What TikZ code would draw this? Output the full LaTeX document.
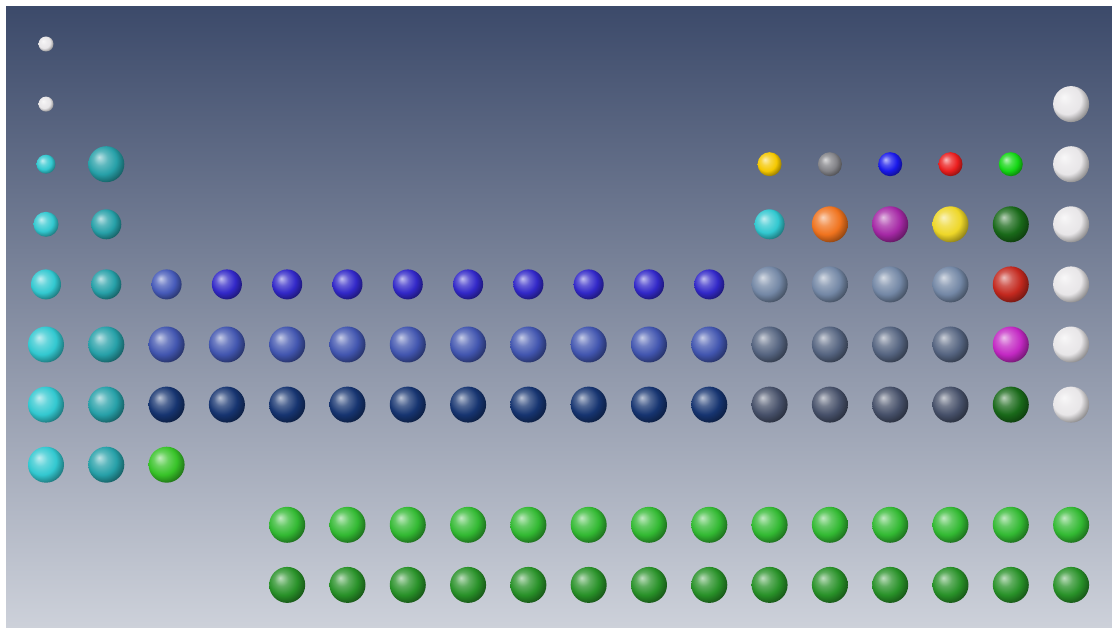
\documentclass[tikz,border=0pt]{standalone}
\makeatletter
\pgfdeclareradialshading[tikz@ball]{sphere}{\pgfpoint{-10bp}{10bp}}{%
 color(0bp)=(tikz@ball!30!white);
 color(10bp)=(tikz@ball!75!white);
 color(20bp)=(tikz@ball);
 color(27bp)=(tikz@ball!72!black);
 color(33bp)=(tikz@ball!48!black);
 color(50bp)=(tikz@ball!30!black)}
\makeatother
\definecolor{bgtop}{RGB}{60,74,106}
\definecolor{bgbot}{RGB}{205,209,218}
\definecolor{cwhite}{RGB}{232,230,232}
\definecolor{ccyan}{RGB}{50,200,208}
\definecolor{cteal}{RGB}{38,160,168}
\definecolor{cindigo}{RGB}{50,40,200}
\definecolor{cmidblue}{RGB}{65,85,175}
\definecolor{cscblue}{RGB}{70,90,185}
\definecolor{cnavy}{RGB}{22,52,112}
\definecolor{csteelA}{RGB}{115,135,165}
\definecolor{csteelB}{RGB}{85,100,128}
\definecolor{csteelC}{RGB}{70,80,105}
\definecolor{cyellowB}{RGB}{245,200,0}
\definecolor{cgrayC}{RGB}{130,130,135}
\definecolor{cblueN}{RGB}{25,25,235}
\definecolor{credO}{RGB}{235,30,30}
\definecolor{cgreenF}{RGB}{20,215,20}
\definecolor{corange}{RGB}{240,115,30}
\definecolor{cpurple}{RGB}{165,40,165}
\definecolor{cyellowS}{RGB}{238,215,40}
\definecolor{cdkgreen}{RGB}{25,105,25}
\definecolor{cbrred}{RGB}{195,40,30}
\definecolor{cmagenta}{RGB}{195,40,195}
\definecolor{cgreenAc}{RGB}{55,195,40}
\definecolor{clanth}{RGB}{50,185,50}
\definecolor{cactin}{RGB}{40,145,40}
\tikzset{
  atom/.style 2 args={circle, inner sep=0pt, minimum size=#2*2pt, ball color=#1, shading=sphere},
}
\newcommand{\colx}[1]{46+(#1-1)*60.3}
\newcommand{\rowy}[1]{44+(#1-1)*60.1}
\begin{document}
\begin{tikzpicture}[x=1pt,y=-1pt]
\useasboundingbox (0,0) rectangle (1112,628);
\shade[top color=bgtop, bottom color=bgbot] (6,7) rectangle (1112,628);
\node[atom={cwhite}{7.5}] (e-1-1) at ({\colx{1}},{\rowy{1}}) {};
\node[atom={cwhite}{7.5}] (e-2-1) at ({\colx{1}},{\rowy{2}}) {};
\node[atom={cwhite}{18}] (e-2-18) at ({\colx{18}},{\rowy{2}}) {};
% row 3
\node[atom={ccyan}{9.5}] (e-3-1) at ({\colx{1}},{\rowy{3}}) {};
\node[atom={cteal}{18}] (e-3-2) at ({\colx{2}},{\rowy{3}}) {};
\node[atom={cyellowB}{12}] (e-3-13) at ({\colx{13}},{\rowy{3}}) {};
\node[atom={cgrayC}{12}] (e-3-14) at ({\colx{14}},{\rowy{3}}) {};
\node[atom={cblueN}{12}] (e-3-15) at ({\colx{15}},{\rowy{3}}) {};
\node[atom={credO}{12}] (e-3-16) at ({\colx{16}},{\rowy{3}}) {};
\node[atom={cgreenF}{12}] (e-3-17) at ({\colx{17}},{\rowy{3}}) {};
\node[atom={cwhite}{18}] (e-3-18) at ({\colx{18}},{\rowy{3}}) {};
% row 4
\node[atom={ccyan}{12.5}] (e-4-1) at ({\colx{1}},{\rowy{4}}) {};
\node[atom={cteal}{15}] (e-4-2) at ({\colx{2}},{\rowy{4}}) {};
\node[atom={ccyan}{15}] (e-4-13) at ({\colx{13}},{\rowy{4}}) {};
\node[atom={corange}{18}] (e-4-14) at ({\colx{14}},{\rowy{4}}) {};
\node[atom={cpurple}{18}] (e-4-15) at ({\colx{15}},{\rowy{4}}) {};
\node[atom={cyellowS}{18}] (e-4-16) at ({\colx{16}},{\rowy{4}}) {};
\node[atom={cdkgreen}{18}] (e-4-17) at ({\colx{17}},{\rowy{4}}) {};
\node[atom={cwhite}{18}] (e-4-18) at ({\colx{18}},{\rowy{4}}) {};
% row 5
\node[atom={ccyan}{15}] (e-5-1) at ({\colx{1}},{\rowy{5}}) {};
\node[atom={cteal}{15}] (e-5-2) at ({\colx{2}},{\rowy{5}}) {};
\node[atom={cscblue}{15}] (e-5-3) at ({\colx{3}},{\rowy{5}}) {};
\foreach \c in {4,...,12}
  \node[atom={cindigo}{15}] (e-5-\c) at ({\colx{\c}},{\rowy{5}}) {};
\foreach \c in {13,...,16}
  \node[atom={csteelA}{18}] (e-5-\c) at ({\colx{\c}},{\rowy{5}}) {};
\node[atom={cbrred}{18}] (e-5-17) at ({\colx{17}},{\rowy{5}}) {};
\node[atom={cwhite}{18}] (e-5-18) at ({\colx{18}},{\rowy{5}}) {};
% row 6
\node[atom={ccyan}{18}] (e-6-1) at ({\colx{1}},{\rowy{6}}) {};
\node[atom={cteal}{18}] (e-6-2) at ({\colx{2}},{\rowy{6}}) {};
\foreach \c in {3,...,12}
  \node[atom={cmidblue}{18}] (e-6-\c) at ({\colx{\c}},{\rowy{6}}) {};
\foreach \c in {13,...,16}
  \node[atom={csteelB}{18}] (e-6-\c) at ({\colx{\c}},{\rowy{6}}) {};
\node[atom={cmagenta}{18}] (e-6-17) at ({\colx{17}},{\rowy{6}}) {};
\node[atom={cwhite}{18}] (e-6-18) at ({\colx{18}},{\rowy{6}}) {};
% row 7
\node[atom={ccyan}{18}] (e-7-1) at ({\colx{1}},{\rowy{7}}) {};
\node[atom={cteal}{18}] (e-7-2) at ({\colx{2}},{\rowy{7}}) {};
\foreach \c in {3,...,12}
  \node[atom={cnavy}{18}] (e-7-\c) at ({\colx{\c}},{\rowy{7}}) {};
\foreach \c in {13,...,16}
  \node[atom={csteelC}{18}] (e-7-\c) at ({\colx{\c}},{\rowy{7}}) {};
\node[atom={cdkgreen}{18}] (e-7-17) at ({\colx{17}},{\rowy{7}}) {};
\node[atom={cwhite}{18}] (e-7-18) at ({\colx{18}},{\rowy{7}}) {};
% row 8
\node[atom={ccyan}{18}] (e-8-1) at ({\colx{1}},{\rowy{8}}) {};
\node[atom={cteal}{18}] (e-8-2) at ({\colx{2}},{\rowy{8}}) {};
\node[atom={cgreenAc}{18}] (e-8-3) at ({\colx{3}},{\rowy{8}}) {};
% lanthanides / actinides
\foreach \c in {5,...,18}
  \node[atom={clanth}{18}] (e-9-\c) at ({\colx{\c}},{\rowy{9}}) {};
\foreach \c in {5,...,18}
  \node[atom={cactin}{18}] (e-10-\c) at ({\colx{\c}},{\rowy{10}}) {};
\end{tikzpicture}
\end{document}
